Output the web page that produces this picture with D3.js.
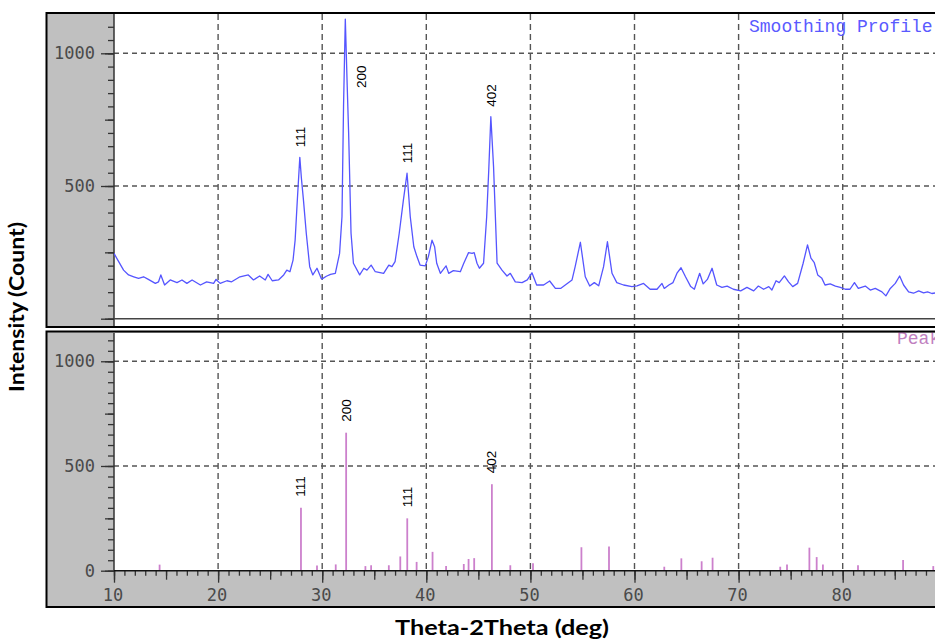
<!DOCTYPE html>
<html>
<head>
    <title>Theta-2Theta profile</title>
    <style type="text/css">
        body { margin: 0; background: #fff; }
        svg text.num { font-family: 'DejaVu Sans Mono', monospace; font-size: 17px; fill: #4a4a4a; }
        svg text.hkl { font-family: 'Liberation Sans', Arial, sans-serif; font-size: 13.5px; fill: #000; }
        svg text.title { font-family: Lato, 'Open Sans', sans-serif; font-weight: bold; font-size: 20px; fill: #000; }
        svg text.legend { font-family: 'Liberation Mono', 'Courier New', monospace; font-size: 18px; }
    </style>
</head>
<body>
<script src="https://d3js.org/d3.v7.min.js" type="text/javascript"></script>
<script type="text/javascript">

    // smoothed profile
    var profileDeg = [10.0, 10.45, 10.92, 11.4, 11.9, 12.36, 12.84, 13.3, 13.97, 14.28, 14.5, 14.86, 15.4, 16.05, 16.53, 17.0, 17.5, 18.3, 18.9, 19.57, 19.8, 20.2, 20.85, 21.3, 22.1, 22.9, 23.4, 23.99, 24.53, 24.8, 25.2, 25.8, 26.3, 26.6, 26.9, 27.2, 27.4, 27.6, 27.85, 28.0, 28.2, 28.47, 28.8, 29.1, 29.5, 29.9, 30.0, 30.4, 30.8, 31.26, 31.67, 31.9, 32.05, 32.22, 32.4, 32.54, 32.77, 33.0, 33.6, 34.0, 34.3, 34.7, 35.1, 35.9, 36.4, 36.7, 37.0, 37.4, 37.8, 38.15, 38.46, 38.8, 39.1, 39.4, 39.9, 40.2, 40.55, 40.8, 41.0, 41.35, 41.9, 42.15, 42.6, 43.27, 43.6, 44.06, 44.4, 44.6, 44.87, 45.1, 45.5, 45.8, 46.0, 46.2, 46.46, 46.8, 47.27, 47.75, 48.07, 48.55, 49.2, 49.7, 50.15, 50.6, 51.27, 51.85, 52.4, 52.9, 53.35, 54.0, 54.3, 54.8, 55.27, 55.7, 56.14, 56.56, 57.03, 57.4, 57.84, 58.3, 58.95, 59.75, 60.24, 60.87, 61.5, 62.16, 62.64, 62.86, 63.3, 63.7, 64.1, 64.47, 64.9, 65.4, 65.75, 66.26, 66.6, 67.0, 67.45, 67.9, 68.4, 68.9, 69.5, 70.2, 70.8, 71.45, 71.9, 72.4, 72.9, 73.2, 73.6, 73.9, 74.4, 74.8, 75.2, 75.67, 76.2, 76.62, 76.95, 77.27, 77.6, 78.0, 78.3, 78.8, 79.3, 79.77, 80.25, 80.7, 81.13, 81.5, 82.17, 82.65, 83.13, 83.77, 84.15, 84.57, 85.05, 85.47, 85.85, 86.33, 86.8, 87.3, 87.77, 88.15, 88.57, 88.9, 89.3];
    var profileCount = [246, 215, 183, 165, 158, 152, 158, 148, 133, 139, 165, 127, 146, 136, 146, 133, 146, 127, 139, 133, 148, 133, 143, 139, 158, 165, 146, 161, 146, 167, 143, 146, 165, 183, 177, 221, 296, 440, 608, 530, 447, 322, 196, 165, 190, 152, 150, 160, 167, 171, 246, 384, 800, 1129, 880, 699, 322, 209, 165, 190, 183, 202, 177, 171, 202, 196, 215, 322, 447, 548, 384, 271, 234, 202, 199, 234, 296, 271, 209, 171, 199, 171, 181, 177, 209, 249, 246, 249, 209, 190, 209, 384, 560, 761, 573, 209, 183, 161, 171, 139, 136, 146, 173, 127, 127, 142, 114, 114, 127, 146, 196, 288, 158, 123, 136, 124, 196, 290, 171, 136, 127, 121, 124, 133, 111, 111, 133, 114, 127, 136, 173, 192, 158, 121, 111, 171, 131, 148, 190, 127, 118, 123, 111, 105, 118, 105, 123, 111, 121, 108, 143, 136, 161, 139, 121, 133, 209, 278, 228, 211, 165, 152, 127, 131, 123, 118, 111, 111, 136, 114, 123, 108, 114, 101, 86, 114, 133, 161, 127, 101, 96, 105, 97, 101, 95, 97, 95];

    // peak list (sticks)
    var peakDeg = [14.38, 27.96, 29.5, 31.3, 32.3, 34.15, 34.7, 36.4, 37.5, 38.17, 39.07, 40.6, 41.9, 43.6, 44.06, 44.6, 46.3, 48.07, 50.25, 54.9, 57.55, 62.86, 64.5, 66.45, 67.5, 74.0, 74.65, 76.8, 77.5, 78.1, 81.47, 85.8, 88.7];
    var peakCount = [29, 301, 25, 30, 659, 22, 26, 26, 68, 250, 42, 90, 23, 32, 56, 60, 413, 26, 36, 112, 115, 19, 59, 45, 62, 19, 30, 110, 65, 30, 26, 51, 22];

    // indexed peaks
    var hklText = ['111', '200', '111', '402'];
    var hklDeg = [27.96, 32.3, 38.17, 46.3];

    var xTickLabels = [10, 20, 30, 40, 50, 60, 70, 80];
    var yTickLabelsTop = [500, 1000];
    var yTickLabelsBottom = [0, 500, 1000];

    var W = 935, H = 639;
    var left = 46.5, plotLeft = 114, right = 1000;

    var svg = d3.select('body').append('svg')
        .attr('width', W)
        .attr('height', H);

    var x = d3.scaleLinear().domain([10, 90]).range([plotLeft, 946.8]);

    var panels = [
        { top: 13, bottom: 327, plotTop: 14, plotBottom: 326, y: d3.scaleLinear().domain([0, 1150]).range([318.7, 13.5]), labels: yTickLabelsTop },
        { top: 331.5, bottom: 607, plotTop: 333, plotBottom: 571, y: d3.scaleLinear().domain([0, 1135]).range([570.7, 333]), labels: yTickLabelsBottom }
    ];

    panels.forEach(function (p, pi) {
        var g = svg.append('g');
        g.append('rect')
            .attr('x', left).attr('y', p.top)
            .attr('width', right - left).attr('height', p.bottom - p.top)
            .attr('fill', '#c0c0c0');
        g.append('rect')
            .attr('x', plotLeft).attr('y', p.plotTop)
            .attr('width', right - plotLeft).attr('height', p.plotBottom - p.plotTop)
            .attr('fill', '#fff');

        g.append('clipPath').attr('id', 'clip' + pi)
            .append('rect')
            .attr('x', plotLeft).attr('y', p.plotTop)
            .attr('width', right - plotLeft).attr('height', p.plotBottom - p.plotTop);

        // grid
        g.selectAll('line.vgrid').data(xTickLabels.slice(1)).enter().append('line')
            .attr('x1', function (d) { return x(d); }).attr('x2', function (d) { return x(d); })
            .attr('y1', p.plotTop).attr('y2', p.plotBottom)
            .attr('stroke', '#555').attr('stroke-width', 1.4).attr('stroke-dasharray', '6,4');
        g.selectAll('line.hgrid').data([500, 1000]).enter().append('line')
            .attr('x1', plotLeft).attr('x2', right)
            .attr('y1', function (d) { return p.y(d); }).attr('y2', function (d) { return p.y(d); })
            .attr('stroke', '#555').attr('stroke-width', 1.4).attr('stroke-dasharray', '5,4');

        // y ticks
        [[50, 6], [250, 9], [500, 13]].forEach(function (t) {
            var vals = d3.range(0, p.y.domain()[1], t[0]);
            var ax = g.append('g')
                .attr('transform', 'translate(' + plotLeft + ',0)')
                .call(d3.axisLeft(p.y).tickValues(vals).tickSize(t[1]).tickFormat(''));
            ax.select('.domain').remove();
            ax.selectAll('line').attr('stroke', '#333').attr('stroke-width', 1.3);
        });
        g.selectAll('text.ylab').data(p.labels).enter().append('text')
            .attr('class', 'num')
            .attr('x', 95)
            .attr('y', function (d) { return p.y(d); })
            .attr('dy', '0.36em')
            .attr('text-anchor', 'end')
            .text(function (d) { return d; });

        // left axis line
        g.append('line')
            .attr('x1', plotLeft).attr('x2', plotLeft)
            .attr('y1', p.plotTop).attr('y2', p.plotBottom)
            .attr('stroke', '#333').attr('stroke-width', 1.5);
    });

    var topP = panels[0], botP = panels[1];

    // top panel: zero line and profile
    svg.append('line')
        .attr('x1', plotLeft).attr('x2', right)
        .attr('y1', topP.y(0)).attr('y2', topP.y(0))
        .attr('stroke', '#444').attr('stroke-width', 1.5);

    var profile = profileDeg.map(function (d, i) { return [d, profileCount[i]]; });
    var line = d3.line()
        .x(function (d) { return x(d[0]); })
        .y(function (d) { return topP.y(d[1]); });
    svg.append('path')
        .datum(profile)
        .attr('clip-path', 'url(#clip0)')
        .attr('d', line)
        .attr('fill', 'none')
        .attr('stroke', '#5555ff')
        .attr('stroke-width', 1.3)
        .attr('stroke-linejoin', 'round');

    // bottom panel: sticks
    svg.append('g').selectAll('line').data(peakDeg).enter().append('line')
        .attr('x1', function (d) { return x(d); }).attr('x2', function (d) { return x(d); })
        .attr('y1', botP.y(0))
        .attr('y2', function (d, i) { return botP.y(peakCount[i]); })
        .attr('stroke', '#cc80cc')
        .attr('stroke-width', 1.8);

    // bottom x axis
    [[1, 5], [5, 9], [10, 12]].forEach(function (t) {
        var ax = svg.append('g')
            .attr('transform', 'translate(0,' + botP.y(0) + ')')
            .call(d3.axisBottom(x).tickValues(d3.range(10, 91, t[0])).tickSize(t[1]).tickFormat(''));
        ax.select('.domain').remove();
        ax.selectAll('line').attr('stroke', '#333').attr('stroke-width', 1.3);
    });
    svg.append('line')
        .attr('x1', plotLeft).attr('x2', right)
        .attr('y1', botP.y(0)).attr('y2', botP.y(0))
        .attr('stroke', '#111').attr('stroke-width', 1.6);
    svg.selectAll('text.xlab').data(xTickLabels).enter().append('text')
        .attr('class', 'num')
        .attr('x', function (d) { return x(d) - 1; })
        .attr('y', 601)
        .attr('text-anchor', 'middle')
        .text(function (d) { return d; });

    // hkl labels
    function hklLabel(cx, by, txt) {
        svg.append('text')
            .attr('class', 'hkl')
            .attr('transform', 'translate(' + cx + ',' + by + ') rotate(-90)')
            .attr('dominant-baseline', 'central')
            .text(txt);
    }
    hklDeg.forEach(function (d, i) {
        // highest point of the profile near this peak
        var near = profile.filter(function (p) { return Math.abs(p[0] - d) < 0.5; });
        var v = d3.max(near, function (p) { return p[1]; });
        var yp = topP.y(v);
        if (yp - 10 - 24 < topP.plotTop) {
            hklLabel(x(d) + 15, yp + 69, hklText[i]);
        } else {
            hklLabel(x(d), yp - 10, hklText[i]);
        }
        var pk = peakCount[peakDeg.indexOf(d)];
        hklLabel(x(d), botP.y(pk) - 11, hklText[i]);
    });

    // legends
    svg.append('text').attr('class', 'legend')
        .attr('x', 749).attr('y', 32)
        .attr('fill', '#5a5aff')
        .text('Smoothing Profile');
    svg.append('text').attr('class', 'legend')
        .attr('x', 897).attr('y', 344)
        .attr('fill', '#c080c0')
        .text('Peak');

    // frames
    panels.forEach(function (p) {
        svg.append('rect')
            .attr('x', left).attr('y', p.top)
            .attr('width', right - left).attr('height', p.bottom - p.top)
            .attr('fill', 'none')
            .attr('stroke', '#000')
            .attr('stroke-width', 2);
    });

    // axis titles
    svg.append('text').attr('class', 'title')
        .attr('x', 502).attr('y', 635)
        .attr('text-anchor', 'middle')
        .attr('textLength', 214).attr('lengthAdjust', 'spacingAndGlyphs')
        .text('Theta-2Theta (deg)');
    svg.append('text').attr('class', 'title')
        .attr('transform', 'translate(24,307) rotate(-90)')
        .attr('text-anchor', 'middle')
        .attr('textLength', 170).attr('lengthAdjust', 'spacingAndGlyphs')
        .text('Intensity (Count)');

</script>
</body>
</html>
